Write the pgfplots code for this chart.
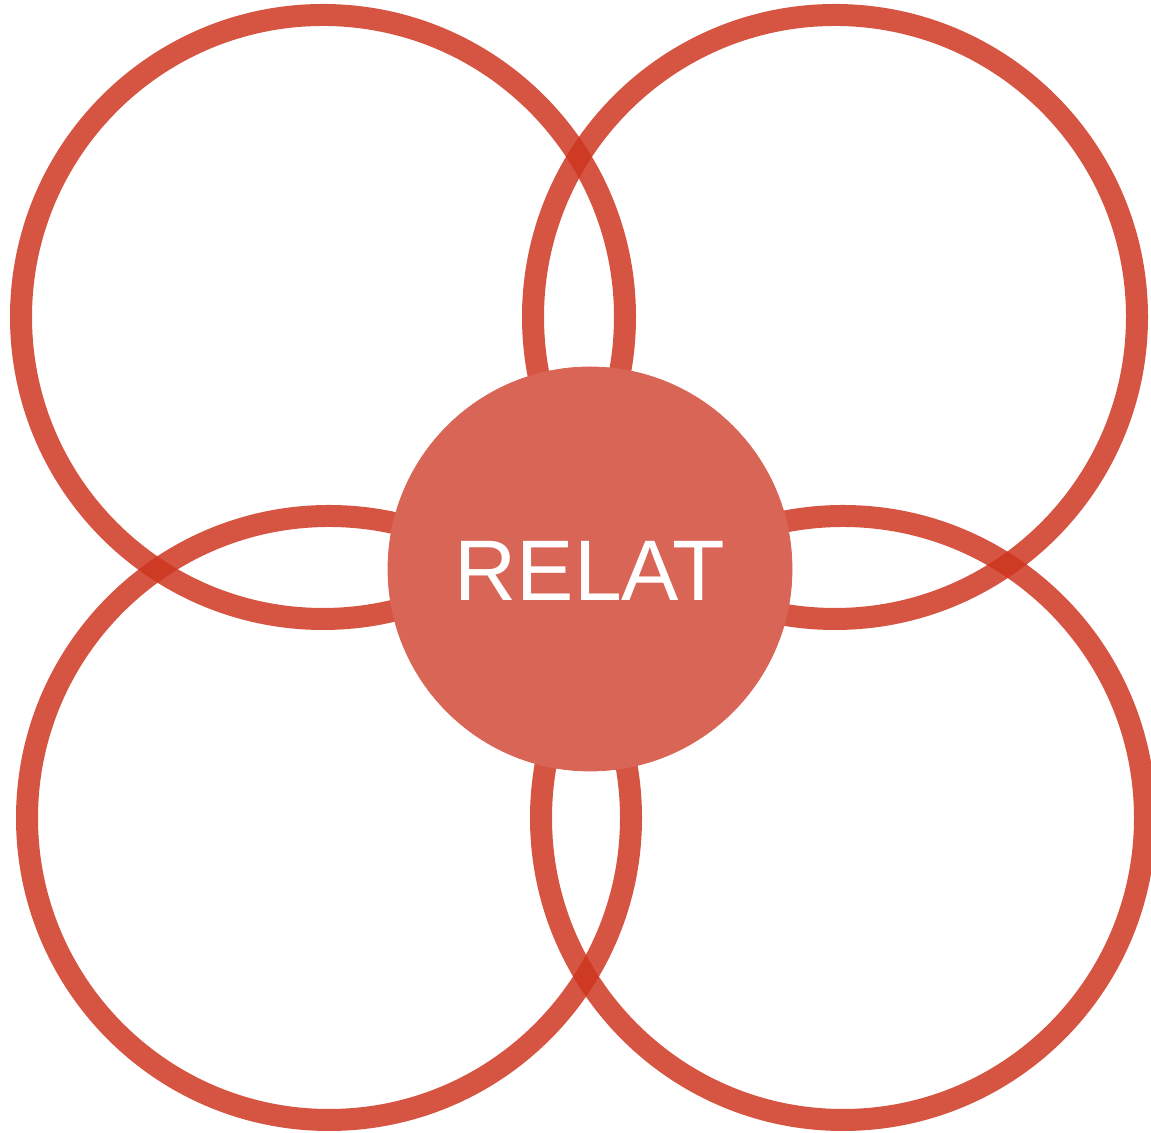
\documentclass[border=0pt]{standalone}
\usepackage{pgfplots}
\pgfplotsset{compat=1.18}
\usepackage{fontspec}
\setmainfont{Liberation Sans}
\definecolor{ringred}{RGB}{206,52,30}
\definecolor{centerred}{RGB}{217,101,87}
\begin{document}
\begin{tikzpicture}
% hidden black copy of the label, covered later by the central disc
\node[text=black, anchor=center, inner sep=0pt] at (295pt,281pt)
  {\fontsize{43}{50}\selectfont RELAT};
\begin{axis}[
  at={(0pt,0pt)}, anchor=south west,
  x=0.5pt, y=0.5pt,
  xmin=0, xmax=1151, ymin=0, ymax=1133,
  hide axis, clip=false,
  scale only axis,
]
% ring centres (pixel units, y upward)
\addplot[only marks, mark=o, color=ringred, mark size=151pt,
  mark options={line width=11pt, draw opacity=0.84, fill=none}]
  coordinates {(323,816) (835,816) (329,315) (843,315)};
% central disc
\addplot[only marks, mark=*, color=centerred, mark size=101pt,
  mark options={fill=centerred, draw=centerred, line width=0.4pt}]
  coordinates {(590,564)};
\coordinate (txt) at (axis cs:590,562);
\coordinate (ll) at (axis cs:0,0);
\coordinate (ur) at (axis cs:1151,1133);
\end{axis}
\node[text=white, anchor=center, inner sep=0pt] at (txt)
  {\fontsize{43}{50}\selectfont RELAT};
\pgfresetboundingbox
\path[use as bounding box] (ll) rectangle (ur);
\end{tikzpicture}
\end{document}
